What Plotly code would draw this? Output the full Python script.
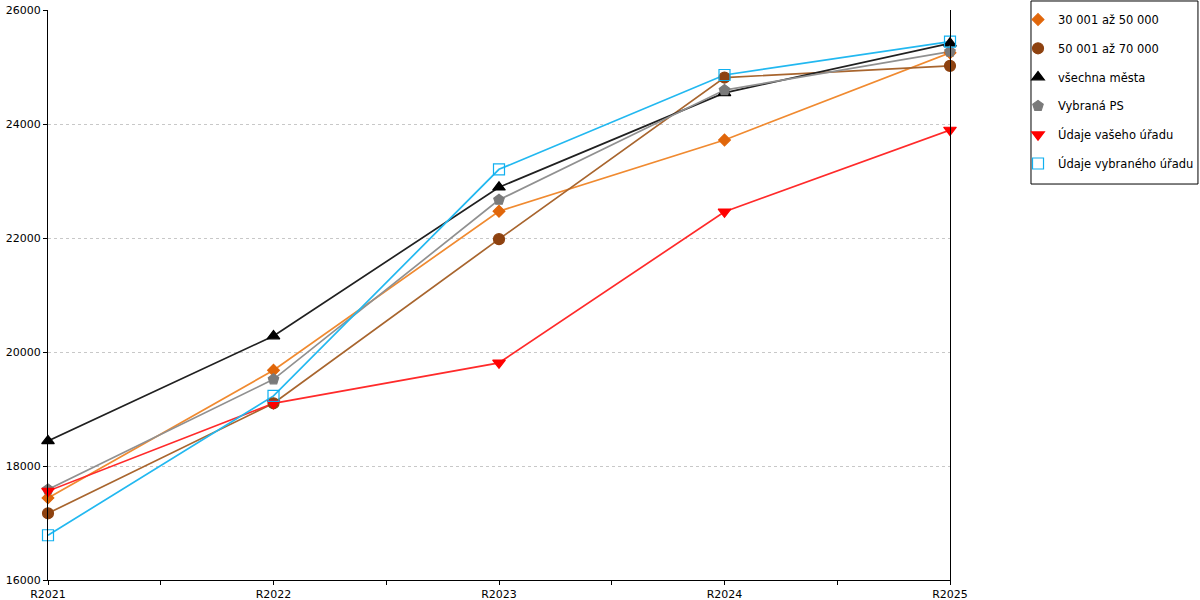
import plotly.graph_objects as go

# roky (kategorie na ose x)
years = ["R2021", "R2022", "R2023", "R2024", "R2025"]

# hodnoty jednotlivých řad
s_30_50 = [17440, 19680, 22470, 23720, 25250]
s_50_70 = [17170, 19100, 21980, 24815, 25020]
s_mesta = [18440, 20280, 22890, 24545, 25415]
s_ps = [17590, 19520, 22670, 24595, 25270]
s_vas = [17560, 19100, 19810, 22460, 23895]
s_vybrany = [16785, 19230, 23205, 24860, 25445]

series = [
    ("30 001 až 50 000", s_30_50, "#F08A30", "#E0660A", "diamond", 9),
    ("50 001 až 70 000", s_50_70, "#A8652E", "#8E4210", "circle", 11),
    ("všechna města", s_mesta, "#202020", "#000000", "triangle-up", 11),
    ("Vybraná PS", s_ps, "#909090", "#7A7A7A", "pentagon", 11),
    ("Údaje vašeho úřadu", s_vas, "#FF2A2A", "#FF0000", "triangle-down", 11),
    ("Údaje vybraného úřadu", s_vybrany, "#22B8F0", "#10B0F0", "square-open", 11),
]

xs = list(range(len(years)))

fig = go.Figure()
# nejdřív čáry (bez legendy), pak značky s legendou
for i, (name, vals, lcol, mcol, sym, size) in enumerate(series):
    fig.add_trace(go.Scatter(
        x=xs, y=vals, mode="lines", showlegend=False, hoverinfo="skip",
        line=dict(color=lcol, width=1.7), legendgroup=str(i),
        cliponaxis=False,
    ))
for i, (name, vals, lcol, mcol, sym, size) in enumerate(series):
    fig.add_trace(go.Scatter(
        x=xs, y=vals, name=name, mode="markers",
        marker=dict(symbol=sym, size=size, color=mcol,
                    line=dict(color=mcol, width=1.2)),
        legendgroup=str(i),
        cliponaxis=False,
    ))

# popisky osy x - kategorie plus mezilehlé značky
tickvals = [i * 0.5 for i in range(2 * len(years) - 1)]
ticktext = [years[i // 2] if i % 2 == 0 else "" for i in range(len(tickvals))]

# rámeček legendy zvlášť, aby seděl s referencí
fig.add_shape(type="rect", xref="paper", yref="paper",
              x0=1.0898, x1=1.2749, y0=0.6947, y1=1.0158,
              line=dict(color="#000000", width=1), fillcolor="rgba(0,0,0,0)")

fig.update_layout(
    width=1200, height=600,
    margin=dict(l=48, r=250, t=10, b=20, autoexpand=False),
    paper_bgcolor="white", plot_bgcolor="white",
    font=dict(family="DejaVu Sans", size=11, color="#000000"),
    showlegend=True,
    legend=dict(
        x=1.0754, y=1.0088, xanchor="left", yanchor="top",
        borderwidth=0, bgcolor="rgba(0,0,0,0)",
        font=dict(size=11.5), tracegroupgap=9.8,
        itemwidth=30,
    ),
    xaxis=dict(
        range=[0, len(years) - 1], tickmode="array",
        tickvals=tickvals, ticktext=ticktext, automargin=False,
        showgrid=False, zeroline=False,
        showline=True, linecolor="#000000", linewidth=1.2,
        ticks="outside", ticklen=4, tickcolor="#000000",
    ),
    yaxis=dict(
        range=[16000, 26000], dtick=2000, tickformat="d", automargin=False,
        showgrid=True, gridcolor="#C8C8C8", griddash="dot", gridwidth=1,
        zeroline=False,
        showline=True, mirror=True, linecolor="#000000", linewidth=1.2,
        ticks="outside", ticklen=4, tickcolor="#000000",
    ),
)

fig.write_html("out.html", config={"displayModeBar": False},
               post_script="document.body.style.margin='0px';"
                           "document.body.style.overflow='hidden';")
